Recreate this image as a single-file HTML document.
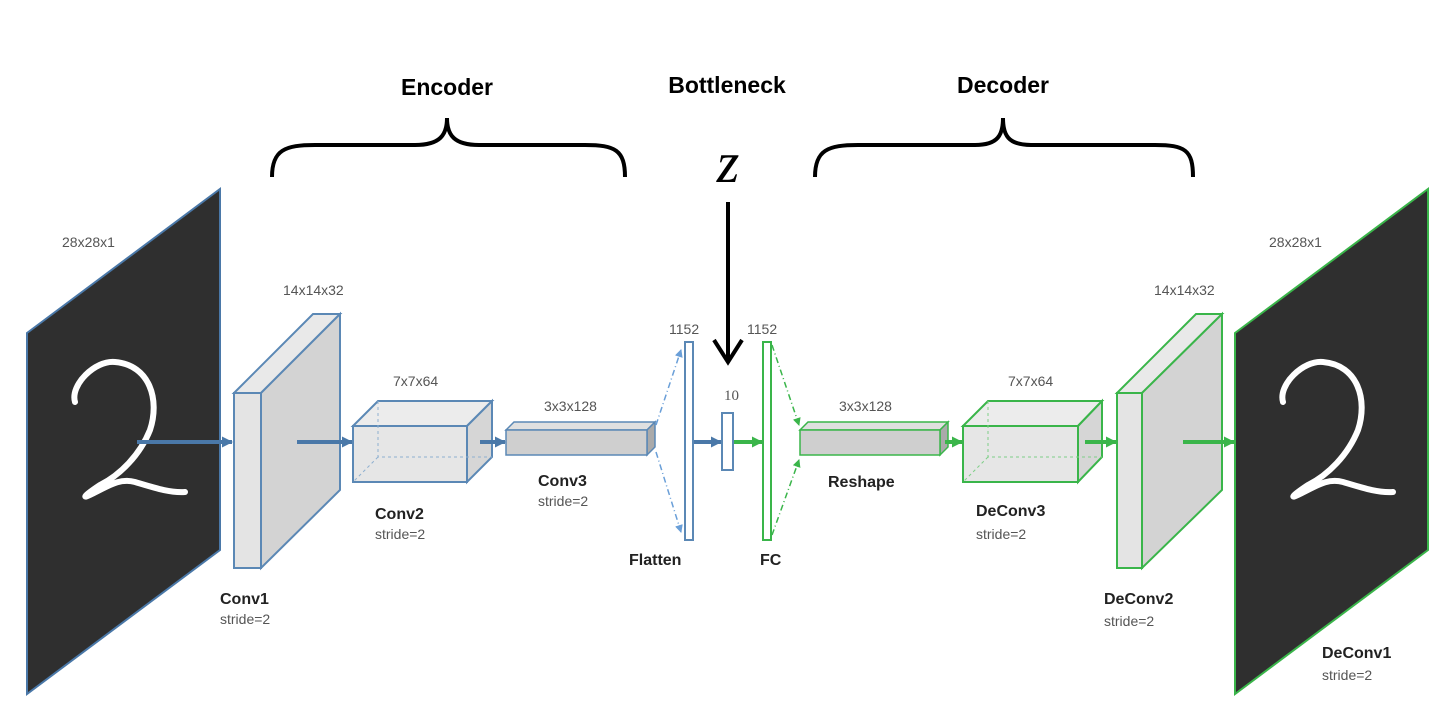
<!DOCTYPE html>
<html><head><meta charset="utf-8"><style>
html,body{margin:0;padding:0;background:#fff;}
svg{display:block;}
.t{font-family:"Liberation Sans",sans-serif;fill:#555;font-size:14px;}
.b{font-family:"Liberation Sans",sans-serif;fill:#222;font-size:16px;font-weight:bold;}
.h{font-family:"Liberation Sans",sans-serif;fill:#000;font-size:23px;font-weight:bold;}
</style></head><body>
<svg width="1440" height="709" viewBox="0 0 1440 709" xmlns="http://www.w3.org/2000/svg">
<defs>
<marker id="ab" markerWidth="11" markerHeight="11" refX="10" refY="5.5" orient="auto" markerUnits="userSpaceOnUse"><path d="M0,0 L11,5.5 L0,11 z" fill="#4a78a8"/></marker>
<marker id="ag" markerWidth="11" markerHeight="11" refX="10" refY="5.5" orient="auto" markerUnits="userSpaceOnUse"><path d="M0,0 L11,5.5 L0,11 z" fill="#3ab54a"/></marker>
<marker id="abs" markerWidth="8" markerHeight="8" refX="7" refY="4" orient="auto" markerUnits="userSpaceOnUse"><path d="M0,0 L8,4 L0,8 z" fill="#6a9fd8"/></marker>
<marker id="ags" markerWidth="8" markerHeight="8" refX="7" refY="4" orient="auto" markerUnits="userSpaceOnUse"><path d="M0,0 L8,4 L0,8 z" fill="#3ab54a"/></marker>
</defs>

<!-- headings -->
<text class="h" x="447" y="95" text-anchor="middle">Encoder</text>
<text class="h" x="727" y="93" text-anchor="middle">Bottleneck</text>
<text class="h" x="1003" y="93" text-anchor="middle">Decoder</text>
<path d="M272,177 C272,150 285,145 315,145 L415,145 C440,145 447,135 447,118 C447,135 454,145 479,145 L585,145 C615,145 625,150 625,177" fill="none" stroke="#000" stroke-width="4"/>
<path d="M815,177 C815,150 828,145 858,145 L975,145 C998,145 1003,135 1003,118 C1003,135 1008,145 1031,145 L1155,145 C1185,145 1193,150 1193,177" fill="none" stroke="#000" stroke-width="4"/>
<text x="728" y="182" text-anchor="middle" font-family="Liberation Serif,serif" font-style="italic" font-size="58" fill="#000">z</text>
<line x1="728" y1="202" x2="728" y2="360" stroke="#000" stroke-width="4"/>
<path d="M714,340 L728,362 L742,340" fill="none" stroke="#000" stroke-width="4"/>

<!-- left image -->
<polygon points="27,333 220,189 220,550 27,694" fill="#2f2f2f" stroke="#4a78a8" stroke-width="2"/>
<path d="M75,402 C70,385 95,360 115,362 C150,365 160,400 150,430 C140,455 120,475 100,485 C85,495 80,500 92,494 C110,485 120,478 135,482 C155,488 170,493 185,492" fill="none" stroke="#fff" stroke-width="6" stroke-linecap="round"/>
<text class="t" x="62" y="247">28x28x1</text>

<!-- conv1 slab -->
<polygon points="234,393 313,314 340,314 261,393" fill="#e9e9e9" stroke="#5b88b5" stroke-width="2"/>
<polygon points="261,393 340,314 340,490 261,568" fill="#d3d3d3" stroke="#5b88b5" stroke-width="2"/>
<rect x="234" y="393" width="27" height="175" fill="#e4e4e4" stroke="#5b88b5" stroke-width="2"/>
<text class="t" x="283" y="295">14x14x32</text>
<line x1="137" y1="442" x2="232" y2="442" stroke="#4a78a8" stroke-width="4" marker-end="url(#ab)"/>
<line x1="297" y1="442" x2="352" y2="442" stroke="#4a78a8" stroke-width="4" marker-end="url(#ab)"/>

<!-- conv2 box -->
<polygon points="353,426 378,401 492,401 467,426" fill="#ececec" stroke="#5b88b5" stroke-width="2"/>
<polygon points="467,426 492,401 492,457 467,482" fill="#d6d6d6" stroke="#5b88b5" stroke-width="2"/>
<rect x="353" y="426" width="114" height="56" fill="#e6e6e6" stroke="#5b88b5" stroke-width="2"/>
<path d="M378,401 L378,457 L492,457 M378,457 L353,482" stroke="#8fb0d0" stroke-dasharray="3,3" fill="none"/>
<text class="t" x="393" y="386">7x7x64</text>
<text class="b" x="375" y="519">Conv2</text>
<text class="t" x="375" y="539">stride=2</text>
<text class="b" x="220" y="604">Conv1</text>
<text class="t" x="220" y="624">stride=2</text>
<line x1="480" y1="442" x2="505" y2="442" stroke="#4a78a8" stroke-width="4" marker-end="url(#ab)"/>

<!-- conv3 bar -->
<polygon points="506,430 514,422 655,422 647,430" fill="#e0e0e0" stroke="#5b88b5" stroke-width="1.5"/>
<polygon points="647,430 655,422 655,447 647,455" fill="#aaa" stroke="#5b88b5" stroke-width="1.5"/>
<rect x="506" y="430" width="141" height="25" fill="#cfcfcf" stroke="#5b88b5" stroke-width="1.5"/>
<text class="t" x="544" y="411">3x3x128</text>
<text class="b" x="538" y="486">Conv3</text>
<text class="t" x="538" y="506">stride=2</text>

<line x1="656" y1="425" x2="681" y2="350" stroke="#6a9fd8" stroke-width="1.5" stroke-dasharray="6,3,1,3" marker-end="url(#abs)"/>
<line x1="656" y1="452" x2="681" y2="532" stroke="#6a9fd8" stroke-width="1.5" stroke-dasharray="6,3,1,3" marker-end="url(#abs)"/>
<rect x="685" y="342" width="8" height="198" fill="#fff" stroke="#5b88b5" stroke-width="2"/>
<text class="t" x="669" y="334">1152</text>
<text class="b" x="629" y="565">Flatten</text>
<line x1="694" y1="442" x2="721" y2="442" stroke="#4a78a8" stroke-width="4" marker-end="url(#ab)"/>
<rect x="722" y="413" width="11" height="57" fill="#fff" stroke="#5b88b5" stroke-width="2"/>
<text x="724" y="400" font-family="Liberation Serif,serif" font-size="15" fill="#555">10</text>
<line x1="734" y1="442" x2="762" y2="442" stroke="#3ab54a" stroke-width="4" marker-end="url(#ag)"/>
<rect x="763" y="342" width="8" height="198" fill="#fff" stroke="#3ab54a" stroke-width="2"/>
<text class="t" x="747" y="334">1152</text>
<text class="b" x="760" y="565">FC</text>
<line x1="772" y1="345" x2="799" y2="425" stroke="#3ab54a" stroke-width="1.5" stroke-dasharray="6,3,1,3" marker-end="url(#ags)"/>
<line x1="772" y1="535" x2="799" y2="460" stroke="#3ab54a" stroke-width="1.5" stroke-dasharray="6,3,1,3" marker-end="url(#ags)"/>

<!-- reshape bar -->
<polygon points="800,430 808,422 948,422 940,430" fill="#e0e0e0" stroke="#3ab54a" stroke-width="1.5"/>
<polygon points="940,430 948,422 948,447 940,455" fill="#aaa" stroke="#3ab54a" stroke-width="1.5"/>
<rect x="800" y="430" width="140" height="25" fill="#cfcfcf" stroke="#3ab54a" stroke-width="1.5"/>
<text class="t" x="839" y="411">3x3x128</text>
<text class="b" x="828" y="487">Reshape</text>
<line x1="945" y1="442" x2="962" y2="442" stroke="#3ab54a" stroke-width="4" marker-end="url(#ag)"/>

<!-- deconv3 box -->
<polygon points="963,426 988,401 1102,401 1078,426" fill="#ececec" stroke="#3ab54a" stroke-width="2"/>
<polygon points="1078,426 1102,401 1102,457 1078,482" fill="#d6d6d6" stroke="#3ab54a" stroke-width="2"/>
<rect x="963" y="426" width="115" height="56" fill="#e6e6e6" stroke="#3ab54a" stroke-width="2"/>
<path d="M988,401 L988,457 L1102,457 M988,457 L963,482" stroke="#7fcf88" stroke-dasharray="3,3" fill="none"/>
<text class="t" x="1008" y="386">7x7x64</text>
<text class="b" x="976" y="516">DeConv3</text>
<text class="t" x="976" y="539">stride=2</text>
<line x1="1085" y1="442" x2="1116" y2="442" stroke="#3ab54a" stroke-width="4" marker-end="url(#ag)"/>

<!-- deconv2 slab -->
<polygon points="1117,393 1196,314 1222,314 1142,393" fill="#e9e9e9" stroke="#3ab54a" stroke-width="2"/>
<polygon points="1142,393 1222,314 1222,490 1142,568" fill="#d3d3d3" stroke="#3ab54a" stroke-width="2"/>
<rect x="1117" y="393" width="25" height="175" fill="#e4e4e4" stroke="#3ab54a" stroke-width="2"/>
<text class="t" x="1154" y="295">14x14x32</text>
<text class="b" x="1104" y="604">DeConv2</text>
<text class="t" x="1104" y="626">stride=2</text>
<line x1="1183" y1="442" x2="1234" y2="442" stroke="#3ab54a" stroke-width="4" marker-end="url(#ag)"/>

<!-- right image -->
<polygon points="1235,333 1428,189 1428,550 1235,694" fill="#2f2f2f" stroke="#3ab54a" stroke-width="2"/>
<path d="M1283,402 C1278,385 1303,360 1323,362 C1358,365 1368,400 1358,430 C1348,455 1328,475 1308,485 C1293,495 1288,500 1300,494 C1318,485 1328,478 1343,482 C1363,488 1378,493 1393,492" fill="none" stroke="#fff" stroke-width="6" stroke-linecap="round"/>
<text class="t" x="1269" y="247">28x28x1</text>
<text class="b" x="1322" y="658">DeConv1</text>
<text class="t" x="1322" y="680">stride=2</text>
</svg>
</body></html>
